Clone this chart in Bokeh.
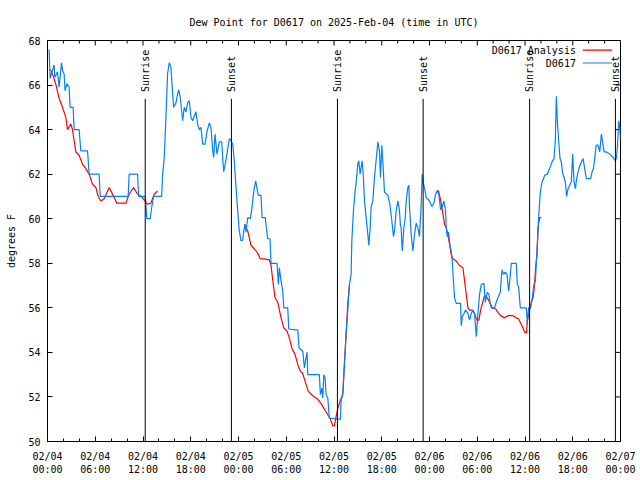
import math
from datetime import datetime, timedelta
from bokeh.plotting import figure
from bokeh.models import FixedTicker, Range1d
from bokeh.core.properties import value
from bokeh.embed import file_html
from bokeh.resources import INLINE

START = datetime(2025, 2, 4, 0, 0)  # hours below are counted from this time (UTC)

# Observed dew point, station D0617 (hours since start, degrees F)
obs_hours = [0.20, 0.33, 0.63, 0.83, 0.92, 1.26, 1.46, 1.76, 1.89, 2.09, 2.21, 2.43, 2.72, 2.84, 3.22, 3.35,
             3.97, 4.19, 5.03, 5.23, 6.49, 6.62, 10.14, 10.26, 11.32, 11.45, 12.28, 12.49, 12.91, 13.12, 13.33,
             14.34, 14.47, 14.67, 14.88, 15.09, 15.30, 15.51, 15.64, 15.85, 16.14, 16.35, 16.48, 16.68, 16.98,
             17.18, 17.40, 17.61, 17.81, 18.03, 18.24, 18.44, 18.65, 18.87, 19.07, 19.28, 19.50, 19.79, 20.04,
             20.33, 20.54, 20.76, 20.88, 21.05, 21.30, 21.46, 21.59, 21.89, 22.01, 22.14, 22.30, 22.55, 22.84,
             23.06, 23.27, 23.47, 23.69, 23.90, 24.10, 24.32, 24.53, 24.66, 24.82, 24.94, 25.16, 25.49, 25.66,
             25.83, 25.99, 26.16, 26.33, 26.49, 26.83, 26.96, 27.37, 27.55, 27.67, 27.96, 28.09, 28.84, 29.01,
             29.13, 29.35, 29.56, 29.69, 30.19, 30.31, 31.45, 31.61, 32.08, 32.28, 32.40, 32.62, 32.70, 34.16,
             34.29, 34.47, 34.59, 34.72, 34.88, 35.01, 35.22, 35.42, 36.81, 36.89, 37.11, 37.31, 37.52, 37.74,
             37.94, 38.15, 38.24, 38.44, 38.65, 38.78, 38.99, 39.12, 39.28, 39.41, 39.54, 39.70, 39.83, 40.04,
             40.25, 40.38, 40.54, 40.67, 40.88, 41.08, 41.30, 41.51, 41.71, 41.84, 42.01, 42.18, 42.34, 42.77,
             43.02, 43.27, 43.47, 43.60, 43.81, 44.03, 44.23, 44.35, 44.44, 44.57, 44.78, 44.94, 45.07, 45.28,
             45.41, 45.49, 45.70, 45.91, 46.12, 46.33, 46.54, 46.74, 46.96, 47.08, 47.25, 47.37, 47.59, 48.00,
             48.30, 48.55, 48.76, 48.97, 49.18, 49.39, 49.60, 49.81, 50.02, 50.10, 50.23, 50.39, 50.57, 50.73,
             50.86, 50.98, 51.15, 51.36, 51.90, 51.99, 52.12, 52.33, 52.53, 52.83, 53.03, 53.25, 53.46, 53.66,
             53.88, 54.09, 54.29, 54.50, 54.84, 55.01, 55.26, 55.47, 55.60, 55.76, 56.18, 56.39, 56.60, 56.89,
             57.11, 57.31, 57.52, 57.74, 57.94, 58.15, 58.28, 58.91, 59.03, 59.20, 59.41, 60.16, 60.29, 60.45,
             60.70, 60.92, 61.13, 61.30, 61.55, 61.71, 61.92, 62.14, 62.34, 62.46, 62.81, 63.09, 63.40, 63.65,
             63.81, 63.94, 64.06, 64.23, 64.40, 64.57, 64.73, 64.91, 65.07, 65.23, 65.41, 65.61, 65.82, 65.99,
             66.16, 66.33, 66.49, 66.67, 66.92, 67.08, 67.30, 67.50, 67.71, 68.25, 68.43, 68.60, 68.76, 68.94,
             69.19, 69.39, 69.60, 69.77, 69.94, 70.23, 70.65, 71.07, 71.36, 71.49, 71.61, 71.78, 71.90, 72.00]
obs_dewpt = [67.60, 66.30, 66.65, 66.90, 66.35, 66.60, 65.90, 67.00, 66.65, 66.50, 65.75, 66.05, 65.90, 65.00, 65.00, 64.00,
             64.00, 63.05, 63.05, 62.00, 62.00, 61.00, 61.00, 62.00, 62.00, 61.00, 61.00, 60.00, 60.00, 60.57, 61.00,
             61.00, 62.00, 62.75, 64.55, 66.50, 67.00, 66.80, 66.05, 65.00, 65.20, 65.60, 65.80, 65.45, 64.40,
             65.00, 64.80, 65.20, 65.30, 64.55, 64.40, 64.60, 64.80, 64.25, 64.00, 64.10, 63.35, 63.35, 63.90,
             64.30, 64.10, 63.05, 62.75, 63.80, 62.90, 63.20, 63.45, 63.45, 62.75, 62.10, 62.40, 62.90, 63.60,
             63.50, 63.35, 62.60, 61.40, 60.35, 59.45, 59.00, 59.05, 59.45, 59.75, 59.40, 60.05, 60.00, 60.40,
             60.95, 61.40, 61.70, 61.35, 61.05, 61.05, 60.05, 60.05, 59.45, 59.10, 59.10, 58.00, 58.00, 57.05,
             57.80, 57.20, 56.75, 56.00, 56.00, 55.05, 55.00, 54.20, 54.05, 53.30, 53.60, 54.00, 53.00, 53.00,
             52.10, 52.40, 51.95, 53.00, 52.85, 52.10, 51.95, 51.05, 51.00, 51.80, 52.20, 53.40, 54.90, 55.95,
             57.05, 57.50, 59.00, 60.35, 61.25, 61.60, 62.45, 62.60, 62.00, 62.30, 62.60, 61.85, 60.80, 60.05,
             59.30, 58.80, 59.60, 60.55, 60.80, 61.85, 62.65, 63.45, 63.05, 61.85, 63.30, 62.30, 61.20, 61.05,
             60.65, 59.90, 59.20, 59.45, 60.35, 60.80, 60.35, 59.70, 59.60, 58.55, 59.60, 60.00, 60.80, 61.40,
             61.50, 60.50, 59.30, 58.55, 59.30, 59.80, 59.60, 59.20, 60.65, 62.00, 61.55, 61.40, 60.95, 60.80,
             60.55, 60.70, 61.10, 61.25, 61.10, 60.40, 60.55, 60.80, 60.35, 59.60, 59.20, 59.40, 58.80, 58.55,
             58.10, 57.35, 56.45, 56.20, 56.20, 55.20, 55.60, 55.75, 55.90, 55.75, 55.45, 55.75, 55.90, 55.75,
             54.70, 55.75, 56.60, 57.05, 57.10, 56.25, 56.70, 56.60, 56.25, 56.00, 56.00, 56.25, 56.45, 56.70,
             57.70, 57.50, 57.60, 57.50, 56.75, 57.45, 58.00, 58.00, 57.05, 56.95, 56.00, 56.00, 55.30, 56.00,
             56.00, 56.45, 57.05, 57.20, 58.85, 60.00, 61.20, 61.65, 61.80, 61.95, 62.00, 62.25, 62.55, 62.70,
             63.50, 65.50, 64.40, 63.50, 62.70, 62.55, 62.05, 61.85, 61.65, 61.00, 61.35, 61.50, 61.65, 62.90,
             61.65, 61.35, 61.80, 62.10, 62.40, 62.55, 62.70, 62.25, 61.80, 61.80, 62.10, 62.25, 62.70, 63.30,
             63.30, 63.00, 63.80, 63.40, 63.00, 63.00, 62.90, 62.75, 62.60, 62.75, 63.20, 64.40, 64.10, 63.60]

# Analysis dew point (NaN = no analysis value)
NA = float("nan")
ana_hours = [0.33, 0.63, 1.04, 1.46, 1.89, 2.30, 2.52, 2.93, 3.14, 3.35, 3.56, 3.97, 4.40, 4.82, 5.23, 5.66,
             6.08, 6.37, 6.70, 7.12, 7.75, 8.18, 8.72, 9.85, 10.26, 10.82, 11.32, 11.74, 12.15, 12.58, 12.99,
             13.41, 13.84, 19.00,
             24.73, 25.16, 25.57, 25.99, 26.42, 26.74, 27.25, 27.87, 28.09, 28.30, 28.59, 28.93, 29.35, 29.69,
             30.10, 30.39, 30.69, 31.11, 31.45, 31.78, 32.08, 32.37, 32.78, 33.21, 33.54, 33.96, 34.38, 34.88,
             35.22, 35.55, 35.85, 36.05, 36.23, 36.48, 36.81, 37.11, 37.31, 37.52, 37.74, 37.94, 43.00,
             48.93, 49.13, 49.35, 49.56, 49.76, 49.89, 50.10, 50.31, 50.52, 50.73, 50.94, 51.36, 51.78, 52.20,
             52.41, 52.62, 52.83, 53.03, 53.37, 53.66, 53.96, 54.21, 54.42, 54.72, 54.92, 55.26, 55.55, 55.89,
             56.31, 56.60, 56.93, 57.44, 57.86, 58.49, 58.91, 59.20, 59.54, 59.75, 59.95, 60.20, 60.29, 60.58,
             60.79, 61.01, 61.21, 61.33, 61.51, 61.64, 61.84, 62.05]
ana_dewpt = [66.70, 66.50, 66.05, 65.40, 65.00, 64.55, 64.00, 64.25, 64.00, 63.50, 63.00, 62.85, 62.45, 62.25, 62.00, 61.55,
             61.40, 61.00, 60.80, 60.90, 61.40, 61.10, 60.70, 60.70, 61.10, 61.40, 61.10, 61.00, 60.85, 60.65, 60.70,
             61.10, 61.25, NA,
             59.75, 59.45, 58.80, 58.65, 58.45, 58.20, 58.20, 58.15, 57.90, 57.25, 56.45, 56.25, 55.55, 55.10,
             54.95, 54.65, 54.20, 53.90, 53.45, 53.15, 53.05, 52.70, 52.25, 52.10, 52.00, 51.90, 51.70, 51.40,
             51.20, 51.00, 50.70, 50.70, 51.05, 51.50, 51.85, 52.10, 53.55, 54.75, 56.25, 57.00, NA,
             61.25, 61.25, 60.90, 60.50, 60.05, 59.75, 59.60, 59.30, 58.85, 58.40, 58.20, 58.10, 57.90, 57.80,
             57.20, 56.60, 56.00, 55.90, 55.90, 55.75, 55.45, 55.45, 55.90, 56.30, 56.55, 56.45, 56.25, 56.00,
             55.95, 55.80, 55.65, 55.55, 55.65, 55.65, 55.55, 55.50, 55.25, 55.10, 54.90, 54.90, 55.40, 55.90,
             56.25, 56.45, 57.05, 57.80, 58.40, 59.60, 60.05, 60.05]

sun_hours = [12.28, 23.11, 36.43, 47.20, 60.58, 71.36]
sun_labels = ["Sunrise", "Sunset", "Sunrise", "Sunset", "Sunrise", "Sunset"]

x_ticks = list(range(0, 73, 6))
x_minor = list(range(0, 73, 2))
x_tick_labels = {h: (START + timedelta(hours=h)).strftime("%m/%d\n%H:%M") for h in x_ticks}
y_ticks = list(range(50, 69, 2))

series_names = ["D0617 Analysis", "D0617"]
series_colors = ["#ff0000", "#0080ff"]

FONT = "DejaVu Sans Mono"
FS = "10px"

W, H = 640, 480
BL, BR, BT, BB = 47, 20, 40, 39
X0, X1, Y0, Y1 = 0, 72, 50, 68

p = figure(width=W, height=H, output_backend="svg", toolbar_location=None,
           x_range=Range1d(X0, X1), y_range=Range1d(Y0, Y1),
           min_border_left=BL, min_border_right=BR, min_border_top=BT, min_border_bottom=BB,
           title="Dew Point for D0617 on 2025-Feb-04 (time in UTC)")
p.title.text_font = FONT
p.title.text_font_size = FS
p.title.text_font_style = "normal"
p.title.text_color = "black"
p.title.align = "center"
p.title.standoff = 25
p.outline_line_color = "black"
p.outline_line_width = 1
p.xgrid.visible = False
p.ygrid.visible = False
p.background_fill_color = "white"
p.border_fill_color = "white"

def style_axis(ax, ticker):
    ax.ticker = ticker
    ax.axis_line_color = "black"
    ax.major_tick_line_color = "black"
    ax.minor_tick_line_color = "black"
    ax.major_tick_in = 5
    ax.major_tick_out = 0
    ax.minor_tick_in = 3
    ax.minor_tick_out = 0
    ax.major_label_text_font = FONT
    ax.major_label_text_font_size = FS
    ax.major_label_text_color = "black"
    ax.axis_label_text_font = FONT
    ax.axis_label_text_font_size = FS
    ax.axis_label_text_font_style = "normal"
    ax.axis_label_text_color = "black"

style_axis(p.xaxis[0], FixedTicker(ticks=x_ticks, minor_ticks=x_minor))
p.xaxis[0].major_label_overrides = x_tick_labels
p.xaxis[0].major_label_standoff = 9
style_axis(p.yaxis[0], FixedTicker(ticks=y_ticks, minor_ticks=[]))
p.yaxis[0].major_label_standoff = 7
p.yaxis[0].axis_label = "degrees F"
p.yaxis[0].axis_label_standoff = 8

# mirrored tick marks on the top and right edges (gnuplot style), sized in pixels
px_x = (X1 - X0) / (W - BL - BR)   # data units per pixel, horizontally
px_y = (Y1 - Y0) / (H - BT - BB)   # data units per pixel, vertically
minor_only = [t for t in x_minor if t not in x_ticks]
p.segment(x0=x_ticks, x1=x_ticks, y0=[Y1] * len(x_ticks), y1=[Y1 - 5 * px_y] * len(x_ticks),
          line_color="black", line_width=1)
p.segment(x0=minor_only, x1=minor_only, y0=[Y1] * len(minor_only), y1=[Y1 - 3 * px_y] * len(minor_only),
          line_color="black", line_width=1)
p.segment(x0=[X1] * len(y_ticks), x1=[X1 - 5 * px_x] * len(y_ticks), y0=y_ticks, y1=y_ticks,
          line_color="black", line_width=1)

# data series (analysis below, observed on top)
p.line(ana_hours, ana_dewpt, line_color=series_colors[0], line_width=1.2)
p.line(obs_hours, obs_dewpt, line_color=series_colors[1], line_width=1.2)

# sunrise / sunset markers
SUN_TOP = 65.38
SUN_LABEL_Y = 65.69
p.segment(x0=sun_hours, y0=[SUN_TOP] * len(sun_hours), x1=sun_hours, y1=[Y0] * len(sun_hours),
          line_color="black", line_width=1)
p.text(x=sun_hours, y=[SUN_LABEL_Y] * len(sun_hours), text=sun_labels, angle=math.pi / 2,
       text_align="left", text_baseline="middle", text_font=value(FONT), text_font_size=FS,
       text_color="black")

# key (gnuplot style: text, then sample line)
KEY_TEXT_X = 66.4
KEY_LINE_X0, KEY_LINE_X1 = 67.25, 70.95
KEY_Y = [67.57, 66.99]
p.text(x=[KEY_TEXT_X] * 2, y=KEY_Y, text=series_names, text_align="right", text_baseline="middle",
       text_font=value(FONT), text_font_size=FS, text_color="black")
p.segment(x0=[KEY_LINE_X0] * 2, y0=KEY_Y, x1=[KEY_LINE_X1] * 2, y1=KEY_Y,
          line_color=series_colors, line_width=1.2)

open("out.html", "w").write(file_html(p, INLINE))
